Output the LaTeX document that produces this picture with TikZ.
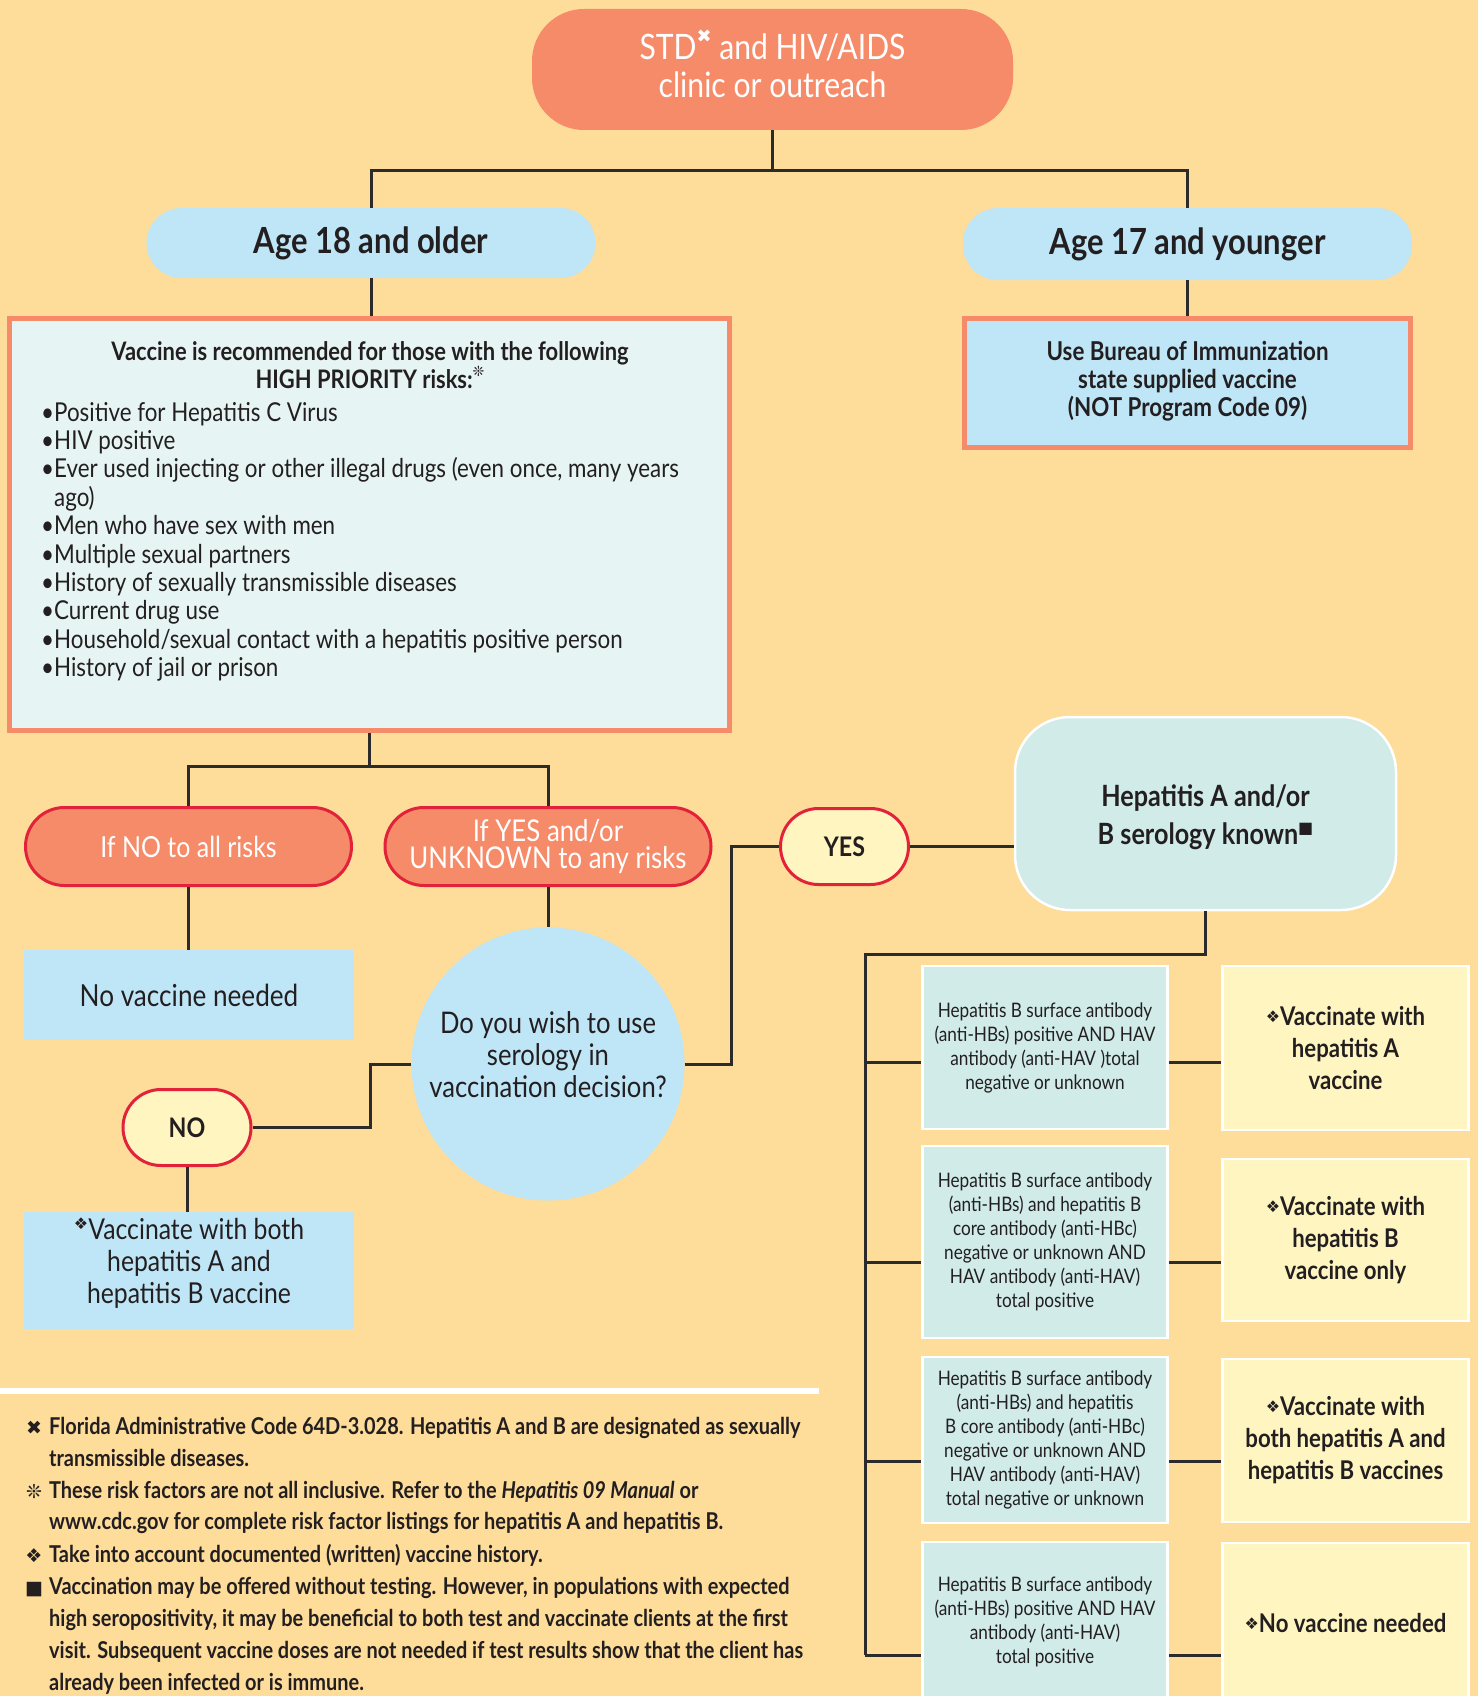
\documentclass[tikz,border=0pt]{standalone}
\usepackage{fontspec}
\setmainfont{Lato}[FakeStretch=0.86]
\newfontfamily\sym{DejaVu Sans}
\definecolor{bgc}{HTML}{FEDC9A}
\definecolor{salm}{HTML}{F68B69}
\definecolor{redb}{HTML}{E2213A}
\definecolor{lblue}{HTML}{BFE6F7}
\definecolor{lyel}{HTML}{FFF5C1}
\definecolor{teal}{HTML}{D0EBE8}
\definecolor{riskf}{HTML}{E6F5F3}
\definecolor{linec}{HTML}{2B2B2B}
\definecolor{txt}{HTML}{231F20}
\newcommand\myfs[2]{\fontsize{#1}{#2}\selectfont}
\newcommand\dia{\raisebox{0.35em}{\sym\fontsize{16}{16}\selectfont ❖}}
\newcommand\diam{\raisebox{0.12em}{\sym\fontsize{16}{16}\selectfont ❖}}
\tikzset{
  ln/.style={draw=linec, line width=3pt},
  tb/.style={inner sep=0pt, align=center, text=txt},
  salmpill/.style={tb, fill=salm, draw=redb, line width=3pt, rounded corners=39pt, minimum width=326pt, minimum height=78pt, text=white, font=\myfs{29}{27}},
  yelpill/.style={tb, fill=lyel, draw=redb, line width=3pt, rounded corners=38pt, minimum width=128pt, minimum height=76pt, font=\bfseries\myfs{27}{28}},
  agebox/.style={tb, fill=lblue, rounded corners=35pt, minimum width=449pt, minimum height=70pt, font=\bfseries\myfs{36}{38}},
  bluebox/.style={tb, fill=lblue, minimum width=330pt},
  subbox/.style={tb, fill=teal, draw=white, line width=2.5pt, minimum width=245pt, font=\myfs{20}{24}},
  resbox/.style={tb, fill=lyel, draw=white, line width=2.5pt, minimum width=246pt, font=\bfseries\myfs{25.8}{32}},
  bul/.style={inner sep=0pt, anchor=base west, text=txt, font=\myfs{26}{28}},
  fn/.style={inner sep=0pt, anchor=base west, text=txt, font=\bfseries\myfs{23.2}{32}},
  fnsym/.style={inner sep=0pt, anchor=base, text=txt, font=\sym\myfs{19}{20}}
}
\begin{document}
\begin{tikzpicture}[x=1pt,y=-1pt]
\useasboundingbox (0,0) rectangle (1478,1696);
\clip (0,0) rectangle (1478,1696);
\fill[bgc] (0,0) rectangle (1478,1696);

% top
\node[tb, fill=salm, rounded corners=52pt, minimum width=481pt, minimum height=121pt] (top) at (772.5,69.5) {};
\node[tb, text=white, font=\myfs{35}{38}] (toptxt) at (772.5,64) {STD\raisebox{0.5em}{\sym\fontsize{18}{18}\selectfont ✖} and HIV/AIDS\\clinic or outreach};

% ages
\node[agebox] (age18) at (371,243) {Age 18 and older};
\node[agebox, minimum height=72pt] (age17) at (1187.5,244) {Age 17 and younger};

% risk box
\node[tb, fill=riskf, draw=salm, line width=5pt, minimum width=720pt, minimum height=412pt] (risk) at (369,524.5) {};
\node[tb, font=\bfseries\myfs{25.5}{28}] (riskhead) at (370,365) {Vaccine is recommended for those with the following\\HIGH PRIORITY risks:\raisebox{0.45em}{\sym\fontsize{14}{14}\selectfont ❊}};
\foreach \t [count=\i] in {{•Positive for Hepatitis C Virus},{•HIV positive},{•Ever used injecting or other illegal drugs (even once, many years},{\hphantom{•}ago)},{•Men who have sex with men},{•Multiple sexual partners},{•History of sexually transmissible diseases},{•Current drug use},{•Household/sexual contact with a hepatitis positive person},{•History of jail or prison}}
  \node[bul] (bl\i) at (41,{421+28.4*(\i-1)}) {\t};

% bureau box
\node[tb, fill=lblue, draw=salm, line width=5pt, minimum width=446pt, minimum height=129pt] (bureau) at (1187.5,383) {};
\node[tb, font=\bfseries\myfs{26}{28}] (burtxt) at (1187.5,381) {Use Bureau of Immunization\\state supplied vaccine\\(NOT Program Code 09)};

% pills
\node[salmpill] (ifno) at (188.5,846.5) {If NO to all risks};
\node[salmpill, font=\myfs{30}{27}] (ifyes) at (548,846.5) {If YES and/or\\UNKNOWN to any risks};

\node[bluebox, minimum height=90pt, font=\myfs{30.4}{32}] (novac) at (189,995) {No vaccine needed};
\node[tb, circle, fill=lblue, minimum size=273pt] (circ) at (548,1064) {};
\node[tb, font=\myfs{29.8}{32}] (circtxt) at (548,1055) {Do you wish to use\\serology in\\vaccination decision?};
\node[yelpill] (nop) at (187,1127.5) {NO};
\node[bluebox, minimum height=117pt] (vacboth) at (189,1270.5) {};
\node[tb, font=\myfs{28.8}{32}] (vbtxt) at (189,1263) {\dia Vaccinate with both\\hepatitis A and\\hepatitis B vaccine};
\node[yelpill] (yesp) at (844.5,846.5) {YES};

\node[tb, fill=teal, draw=white, line width=2.5pt, rounded corners=55pt, minimum width=381pt, minimum height=193pt] (hep) at (1205.5,813.5) {};
\node[tb, font=\bfseries\myfs{29.3}{38}] (heptxt) at (1205.5,817.5)
  {Hepatitis A and/or\\B serology known\raisebox{0.4em}{\sym\fontsize{16}{16}\selectfont ■}};

% sub boxes
\node[subbox, minimum height=163pt] (s1) at (1045,1047.5) {Hepatitis B surface antibody\\(anti-HBs) positive AND HAV\\antibody (anti-HAV )total\\negative or unknown};
\node[subbox, minimum height=192pt] (s2) at (1045,1242) {Hepatitis B surface antibody\\(anti-HBs) and hepatitis B\\core antibody (anti-HBc)\\negative or unknown AND\\HAV antibody (anti-HAV)\\total positive};
\node[subbox, minimum height=166pt] (s3) at (1045,1440) {Hepatitis B surface antibody\\(anti-HBs) and hepatitis\\B core antibody (anti-HBc)\\negative or unknown AND\\HAV antibody (anti-HAV)\\total negative or unknown};
\node[subbox, minimum height=160pt] (s4) at (1045,1622) {Hepatitis B surface antibody\\(anti-HBs) positive AND HAV\\antibody (anti-HAV)\\total positive};

\node[resbox, minimum height=164pt] (r1) at (1345.5,1048) {\diam Vaccinate with\\hepatitis A\\vaccine};
\node[resbox, minimum height=162pt] (r2) at (1345.5,1240) {\diam Vaccinate with\\hepatitis B\\vaccine only};
\node[resbox, minimum height=163pt] (r3) at (1345.5,1440.5) {\diam Vaccinate with\\both hepatitis A and\\hepatitis B vaccines};
\node[resbox, minimum height=160pt] (r4) at (1345.5,1623) {\diam No vaccine needed};

% connectors
\coordinate (t1) at (772.5,171);
\draw[ln] (top.south) -- (t1);
\draw[ln] (age18.north) |- (t1) -| (age17.north);
\draw[ln] (age18.south) -- (age18.south |- risk.north);
\draw[ln] (age17.south) -- (bureau.north);
\coordinate (rj) at (369,766);
\draw[ln] (risk.south) -- (rj);
\draw[ln] (ifno.north) |- (rj) -| (ifyes.north);
\draw[ln] (ifno.south) -- (ifno.south |- novac.north);
\draw[ln] (ifyes.south) -- (circ.north);
\coordinate (k1) at (370,1096);
\draw[ln] (circ.west) -| (k1) |- (nop.east);
\draw[ln] (nop.south) -- (nop.south |- vacboth.north);
\coordinate (k2) at (731,950);
\draw[ln] (circ.east) -| (k2) |- (yesp.west);
\draw[ln] (yesp.east) -- (yesp.east -| hep.west);
\coordinate (h1) at (865,954);
\coordinate (j1) at (865,1062);
\coordinate (j2) at (865,1262);
\coordinate (j3) at (865,1461);
\coordinate (j4) at (865,1655);
\draw[ln] (hep.south) |- (h1) -- (j4);
\draw[ln] (j1) -- (j1 -| s1.west);
\draw[ln] (j2) -- (j2 -| s2.west);
\draw[ln] (j3) -- (j3 -| s3.west);
\draw[ln] (j4) -- (j4 -| s4.west);
\draw[ln] (j1 -| s1.east) -- (j1 -| r1.west);
\draw[ln] (j2 -| s2.east) -- (j2 -| r2.west);
\draw[ln] (j3 -| s3.east) -- (j3 -| r3.west);
\draw[ln] (j4 -| s4.east) -- (j4 -| r4.west);

% footnotes
\fill[white] (0,1388) rectangle (819,1394);
\node[fnsym] (fs1) at (34,1434) {✖};
\node[fnsym] (fs2) at (34,1498) {❊};
\node[fnsym] (fs3) at (34,1562) {❖};
\node[fnsym] (fs4) at (34,1594) {■};
\node[fn] (f1) at (49,1434) {Florida Administrative Code 64D-3.028. Hepatitis A and B are designated as sexually};
\node[fn] (f2) at (49,1466) {transmissible diseases.};
\node[fn] (f3) at (49,1498) {These risk factors are not all inclusive. Refer to the \textit{Hepatitis 09 Manual} or};
\node[fn] (f4) at (49,1529) {www.cdc.gov for complete risk factor listings for hepatitis A and hepatitis B.};
\node[fn] (f5) at (49,1562) {Take into account documented (written) vaccine history.};
\node[fn] (f6) at (49,1594) {Vaccination may be offered without testing. However, in populations with expected};
\node[fn] (f7) at (49,1626) {high seropositivity, it may be beneficial to both test and vaccinate clients at the first};
\node[fn] (f8) at (49,1658) {visit. Subsequent vaccine doses are not needed if test results show that the client has};
\node[fn] (f9) at (49,1690) {already been infected or is immune.};
\end{tikzpicture}
\end{document}
